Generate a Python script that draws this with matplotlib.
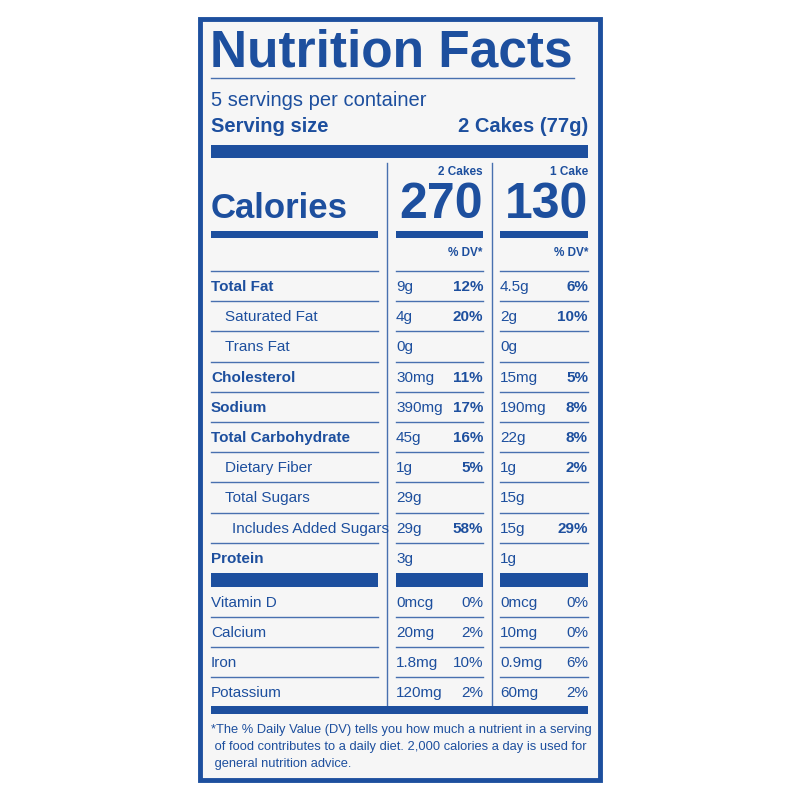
import matplotlib
matplotlib.use("Agg")
import matplotlib.pyplot as plt
from matplotlib.patches import Rectangle

BLUE = "#1d4f9e"
FONT = ["Liberation Sans", "DejaVu Sans"]

title = "Nutrition Facts"
servings = "5 servings per container"
serving_size = "2 Cakes (77g)"
col_heads = ["2 Cakes", "1 Cake"]
calories = ["270", "130"]

labels = ["Total Fat", "Saturated Fat", "Trans Fat", "Cholesterol", "Sodium",
          "Total Carbohydrate", "Dietary Fiber", "Total Sugars",
          "Includes Added Sugars", "Protein"]
indent = [0, 1, 1, 0, 0, 0, 1, 1, 2, 0]
amt1 = ["9g", "4g", "0g", "30mg", "390mg", "45g", "1g", "29g", "29g", "3g"]
dv1 = ["12%", "20%", "", "11%", "17%", "16%", "5%", "", "58%", ""]
amt2 = ["4.5g", "2g", "0g", "15mg", "190mg", "22g", "1g", "15g", "15g", "1g"]
dv2 = ["6%", "10%", "", "5%", "8%", "8%", "2%", "", "29%", ""]

vit_labels = ["Vitamin D", "Calcium", "Iron", "Potassium"]
vit_amt1 = ["0mcg", "20mg", "1.8mg", "120mg"]
vit_dv1 = ["0%", "2%", "10%", "2%"]
vit_amt2 = ["0mcg", "10mg", "0.9mg", "60mg"]
vit_dv2 = ["0%", "0%", "6%", "2%"]

footnote = ["*The % Daily Value (DV) tells you how much a nutrient in a serving",
            " of food contributes to a daily diet. 2,000 calories a day is used for",
            " general nutrition advice."]

fig = plt.figure(figsize=(8, 8), dpi=100)
ax = fig.add_axes([0, 0, 1, 1])
ax.set_xlim(0, 800); ax.set_ylim(800, 0); ax.axis("off")

def T(x, y, s, size, bold=False, ha="left"):
    ax.text(x, y, s, fontsize=size, fontweight="bold" if bold else "normal",
            ha=ha, va="center", color=BLUE, family=FONT)

def bar(x0, x1, y0, y1):
    ax.add_patch(Rectangle((x0, y0), x1 - x0, y1 - y0, color=BLUE, lw=0))

def hline(x0, x1, y, lw=1.0):
    ax.plot([x0, x1], [y, y], color=BLUE, lw=lw, alpha=0.8)

ax.add_patch(Rectangle((200, 19), 400, 761, fill=True, fc="#f6f6f6", ec=BLUE, lw=3.5))

L, R = 211, 588
C1a, C1b, C2a, C2b = 396, 483, 500, 588
segs = [(L, 378), (C1a, C1b), (C2a, C2b)]

T(391, 53, title, 37, True, "center")
hline(L, R - 14, 78)
T(L, 100, servings, 14.5)
T(L, 127, "Serving size", 14.5, True)
T(R, 127, serving_size, 14.5, True, "right")
bar(L, R, 145, 158)

for x in (387, 492):
    ax.plot([x, x], [163, 706], color=BLUE, lw=1.0, alpha=0.8)

T(C1b, 172, col_heads[0], 8.5, True, "right")
T(C2b, 172, col_heads[1], 8.5, True, "right")
T(L, 209, "Calories", 25, True)
T(C1b, 205, calories[0], 36, True, "right")
T(C2b, 205, calories[1], 36, True, "right")
for a, b in segs:
    bar(a, b, 231, 238)
T(C1b, 253, "% DV*", 8.5, True, "right")
T(C2b, 253, "% DV*", 8.5, True, "right")

y0, dy = 287, 30.2
for i, lab in enumerate(labels):
    y = y0 + i * dy
    for a, b in segs:
        hline(a, b, y - 16)
    bold = indent[i] == 0
    T(L + [0, 14, 21][indent[i]], y, lab, 11, bold)
    T(C1a, y, amt1[i], 11)
    T(C1b, y, dv1[i], 11, True, "right")
    T(C2a, y, amt2[i], 11)
    T(C2b, y, dv2[i], 11, True, "right")

for a, b in segs:
    bar(a, b, 573, 587)

for i, lab in enumerate(vit_labels):
    y = 603 + i * 30
    if i > 0:
        for a, b in segs:
            hline(a, b, y - 16)
    T(L, y, lab, 11)
    T(C1a, y, vit_amt1[i], 11)
    T(C1b, y, vit_dv1[i], 11, False, "right")
    T(C2a, y, vit_amt2[i], 11)
    T(C2b, y, vit_dv2[i], 11, False, "right")

bar(L, R, 706, 714)
for i, s in enumerate(footnote):
    T(L, 730 + i * 17, s, 9.3)

fig.savefig("out.png", dpi=100)
